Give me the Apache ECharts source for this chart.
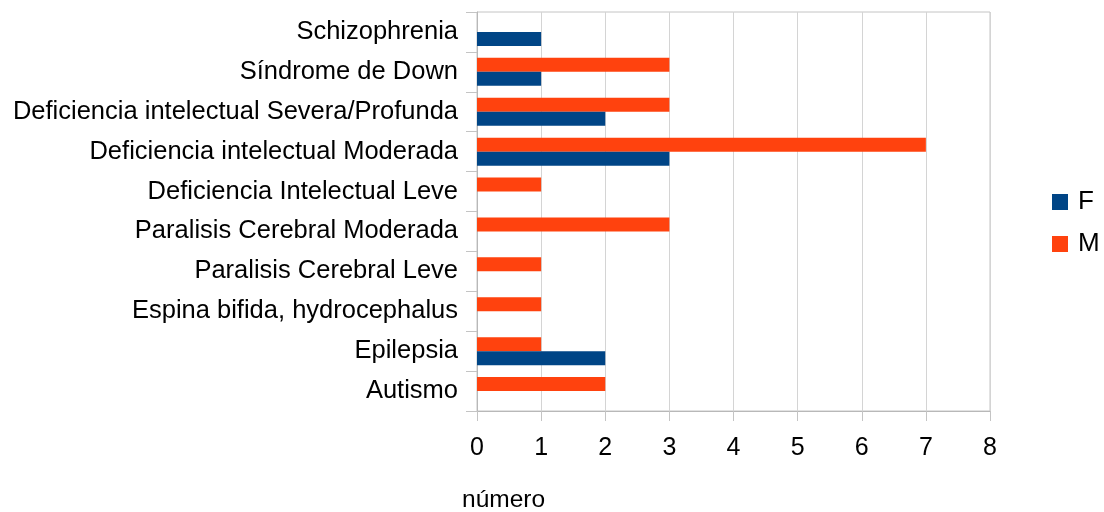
<!DOCTYPE html>
<html>
<head>
<meta charset="utf-8">
<style>
  html, body { margin: 0; padding: 0; background: #fff; }
  #main { width: 1104px; height: 512px; }
</style>
<script src="https://cdn.jsdelivr.net/npm/echarts@6/dist/echarts.min.js"></script>
</head>
<body>
<div id="main"></div>
<script>
// categories, bottom to top as on the axis
var categories = [
  'Autismo',
  'Epilepsia',
  'Espina bifida, hydrocephalus',
  'Paralisis Cerebral Leve',
  'Paralisis Cerebral Moderada',
  'Deficiencia Intelectual Leve',
  'Deficiencia intelectual Moderada',
  'Deficiencia intelectual Severa/Profunda',
  'Síndrome de Down',
  'Schizophrenia'
];
var valuesF = [0, 2, 0, 0, 0, 0, 3, 2, 1, 1];
var valuesM = [2, 1, 1, 1, 3, 1, 7, 3, 3, 0];
var axisTitle = 'número';

var font = 'Liberation Sans, Arial, sans-serif';
var myChart = echarts.init(document.getElementById('main'));

myChart.setOption({
  animation: false,
  textStyle: { fontFamily: font },
  grid: {
    left: 477,
    right: 114,
    top: 12,
    bottom: 101,
    show: true,
    borderColor: '#c4c4c4',
    borderWidth: 1
  },
  legend: {
    orient: 'vertical',
    left: 1047,
    top: 184,
    icon: 'rect',
    itemWidth: 16,
    itemHeight: 16,
    itemGap: 16,
    textStyle: {
      fontFamily: font,
      fontSize: 26,
      lineHeight: 24,
      color: '#000',
      padding: [0, 0, 0, 5]
    },
    data: ['F', 'M']
  },
  xAxis: {
    type: 'value',
    min: 0,
    max: 8,
    interval: 1,
    axisLine: { show: true, lineStyle: { color: '#b8b8b8' } },
    axisTick: { show: true, length: 10, lineStyle: { color: '#c4c4c4' } },
    axisLabel: { color: '#000', fontSize: 25, margin: 25, fontFamily: font },
    splitLine: { show: true, lineStyle: { color: '#d4d4d4' } }
  },
  yAxis: {
    type: 'category',
    data: categories,
    axisLine: { show: true, lineStyle: { color: '#b8b8b8' } },
    axisTick: { show: true, length: 11, lineStyle: { color: '#c4c4c4' } },
    axisLabel: { color: '#000', fontSize: 25.5, margin: 19, fontFamily: font },
    splitLine: { show: false }
  },
  graphic: [{
    type: 'text',
    left: 462,
    top: 488,
    style: { text: axisTitle, fontSize: 24.5, fontFamily: font, fill: '#000' }
  }],
  // M is listed first so that it sits above F inside each category band
  series: [{
    name: 'M',
    type: 'bar',
    data: valuesM,
    barWidth: 14,
    barGap: 0,
    itemStyle: { color: '#ff420e' }
  }, {
    name: 'F',
    type: 'bar',
    data: valuesF,
    barWidth: 14,
    barGap: 0,
    itemStyle: { color: '#004586' }
  }]
});
</script>
</body>
</html>
